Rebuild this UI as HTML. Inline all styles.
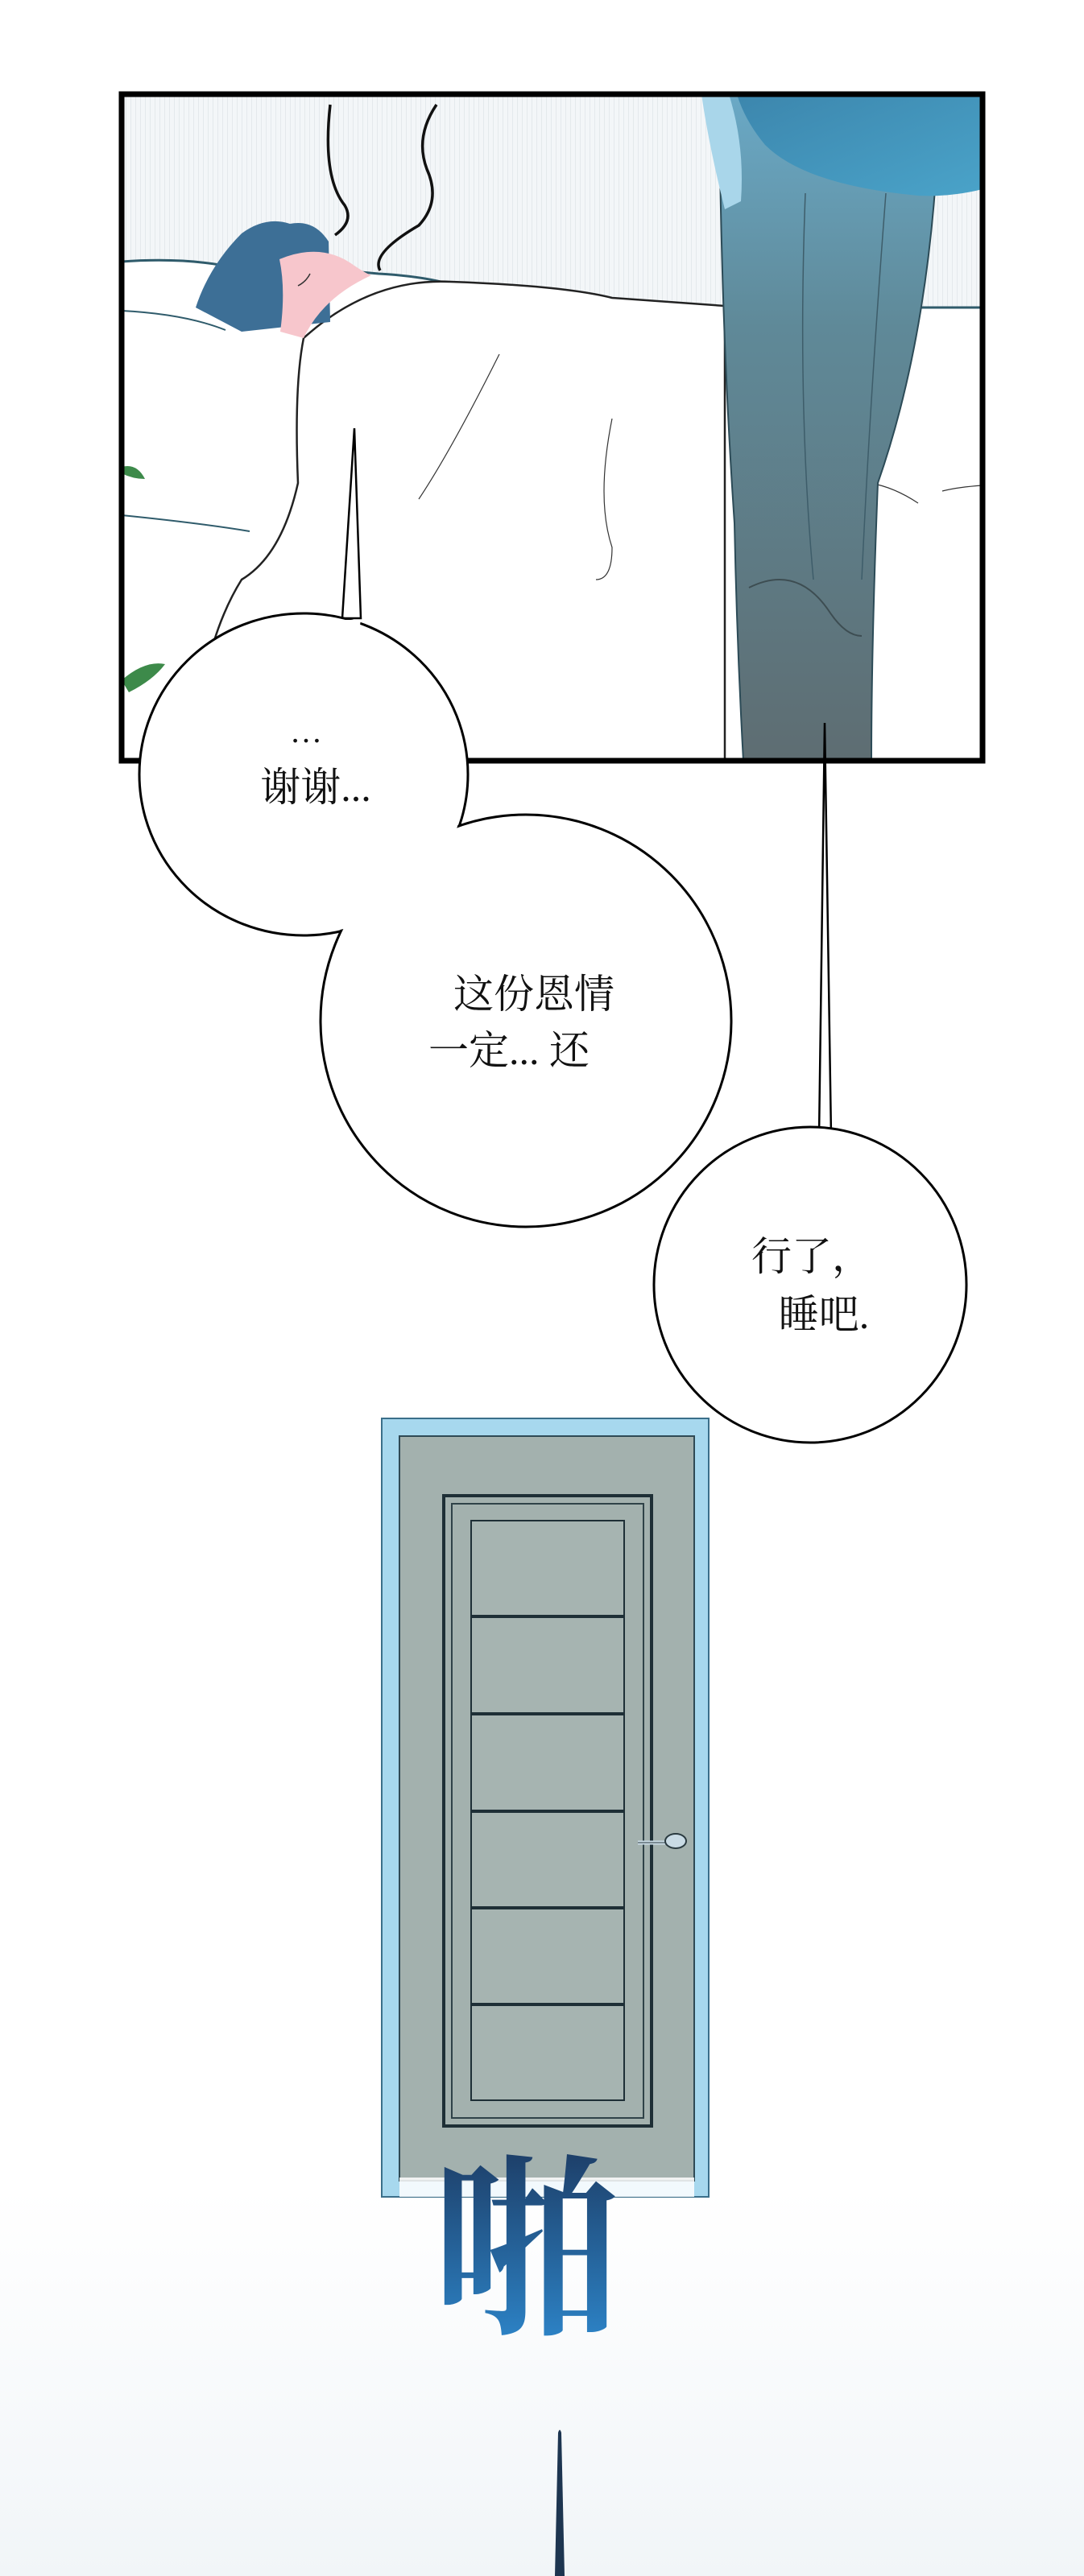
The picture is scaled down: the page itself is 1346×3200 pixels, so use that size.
<!DOCTYPE html>
<html><head><meta charset="utf-8"><style>
html,body{margin:0;padding:0;background:#fff;}
svg{display:block;}
text{font-family:"Liberation Serif","Noto Serif CJK SC","Noto Sans CJK SC",serif;fill:#111;}
</style></head><body>
<svg width="1346" height="3200" viewBox="0 0 1346 3200" xmlns="http://www.w3.org/2000/svg">
<defs>
<linearGradient id="pants" x1="0" y1="0" x2="0" y2="1">
<stop offset="0" stop-color="#6aa9c6"/><stop offset="0.35" stop-color="#5f8998"/><stop offset="1" stop-color="#5e6d72"/>
</linearGradient>
<linearGradient id="shirt" x1="0" y1="0" x2="1" y2="1">
<stop offset="0" stop-color="#3c86ad"/><stop offset="1" stop-color="#4aa3c9"/>
</linearGradient>
<linearGradient id="pa" x1="0" y1="0" x2="0" y2="1">
<stop offset="0" stop-color="#1d3d66"/><stop offset="1" stop-color="#2e8ad0"/>
</linearGradient>
<linearGradient id="floor" x1="0" y1="0" x2="0" y2="1">
<stop offset="0" stop-color="#ffffff"/><stop offset="1" stop-color="#f1f5f8"/>
</linearGradient>
<pattern id="stripes" width="6" height="10" patternUnits="userSpaceOnUse">
<rect width="6" height="10" fill="#f3f6f8"/><rect width="1" height="10" fill="#e4e9ec"/>
</pattern>
<clipPath id="pc"><rect x="151" y="117" width="1069" height="828"/></clipPath>
</defs>

<!-- PANEL -->
<g clip-path="url(#pc)">
<rect x="151" y="117" width="1069" height="828" fill="url(#stripes)"/>
<path d="M151 325 Q250 318 320 340 L360 330 L470 340 Q560 345 600 370 Q700 380 900 382 L1220 382 L1220 945 L151 945 Z" fill="#fff" stroke="#2f5b6b" stroke-width="3"/>
<path d="M151 386 Q230 390 280 410" fill="none" stroke="#2f5b6b" stroke-width="2"/>
<path d="M151 640 Q250 650 310 660" fill="none" stroke="#2f5b6b" stroke-width="2"/>
<path d="M377 420 Q460 345 560 350 Q700 355 760 370 L900 380 L900 945 L240 945 Q250 800 300 720 Q350 690 370 600 Q365 480 377 420Z" fill="#fff" stroke="#222" stroke-width="2.5"/>
<path d="M620 440 Q560 560 520 620" fill="none" stroke="#333" stroke-width="1.2"/>
<path d="M760 520 Q740 620 760 680 Q760 720 740 720" fill="none" stroke="#333" stroke-width="1.2"/>
<path d="M1080 600 Q1110 605 1140 625 M1170 610 Q1190 605 1220 603" fill="none" stroke="#333" stroke-width="1.2"/>
<path d="M243 382 Q260 330 300 290 Q330 268 360 278 Q390 272 408 300 L410 400 L300 412 Z" fill="#3d6f96"/>
<path d="M347 322 Q400 300 440 330 Q455 340 461 342 Q400 370 377 420 L348 412 Q355 360 347 322Z" fill="#f7c6cc"/>
<path d="M370 355 Q380 350 385 340" fill="none" stroke="#333" stroke-width="1.5"/>
<path d="M410 130 Q400 220 428 255 Q440 275 416 292" fill="none" stroke="#111" stroke-width="3.5"/>
<path d="M542 130 Q515 170 530 210 Q548 250 520 280 Q460 315 472 336" fill="none" stroke="#111" stroke-width="3.5"/>
<!-- standing man -->
<path d="M893 117 L1167 117 Q1160 400 1090 600 Q1082 800 1082 945 L923 945 Q915 800 912 650 Q895 400 893 117 Z" fill="url(#pants)" stroke="#2c4b57" stroke-width="2"/>
<path d="M1000 240 Q990 500 1010 720 M1100 240 Q1080 500 1070 720" fill="none" stroke="#3e5d6a" stroke-width="1.5"/>
<path d="M930 730 Q990 700 1030 760 Q1050 790 1070 790" fill="none" stroke="#3d4d52" stroke-width="2"/>
<path d="M871 117 L905 117 Q925 180 920 250 L900 260 Q880 180 871 117Z" fill="#a9d6ea"/>
<path d="M915 117 L1220 117 L1220 235 Q1180 245 1140 243 Q1000 230 950 180 Q925 150 915 117Z" fill="url(#shirt)"/>
<path d="M151 580 Q170 575 180 595 Q165 595 151 588Z" fill="#3d8a4a"/>
<path d="M151 845 Q180 820 205 825 Q190 845 160 860Z" fill="#3d8a4a"/>
</g>
<rect x="151" y="117" width="1069" height="828" fill="none" stroke="#000" stroke-width="7"/>

<path d="M425 768 L440 532 L448 768 Z" fill="#fff" stroke="#000" stroke-width="2.5"/>
<path d="M1017 1412 L1024 898 L1032 1412 Z" fill="#fff" stroke="#000" stroke-width="2.5"/>

<ellipse cx="1006" cy="1596" rx="194" ry="196" fill="#fff" stroke="#000" stroke-width="3"/>
<ellipse cx="377" cy="962" rx="204" ry="200" fill="#fff" stroke="#000" stroke-width="3"/>
<ellipse cx="653" cy="1268" rx="255" ry="256" fill="#fff" stroke="#000" stroke-width="3"/>
<ellipse cx="377" cy="962" rx="202" ry="198" fill="#fff"/>
<path d="M425 770 L448 770 L445 790 L425 790Z" fill="#fff"/>
<path d="M1019 1408 L1030 1408 L1030 1420 L1019 1420Z" fill="#fff"/>

<text x="380" y="922" font-size="40" text-anchor="middle">…</text>
<text x="392" y="995" font-size="50" text-anchor="middle">谢谢...</text>
<text x="663" y="1252" font-size="50" text-anchor="middle">这份恩情</text>
<text x="632" y="1322" font-size="50" text-anchor="middle">一定... 还</text>
<text x="1008" y="1578" font-size="50" text-anchor="middle">行了，</text>
<text x="1023" y="1650" font-size="50" text-anchor="middle">睡吧.</text>

<rect x="0" y="2720" width="1346" height="480" fill="url(#floor)"/>

<!-- DOOR -->
<rect x="474" y="1762" width="406" height="967" fill="#a7d8ee" stroke="#3b6f8a" stroke-width="2"/>
<rect x="496" y="1784" width="366" height="925" fill="#a3b1ae" stroke="#2f4a55" stroke-width="2"/>
<rect x="551" y="1858" width="258" height="783" fill="none" stroke="#1e2f36" stroke-width="4"/>
<rect x="561" y="1868" width="238" height="763" fill="none" stroke="#2f4248" stroke-width="2"/>
<g fill="#a6b4b1" stroke="#1e2f36" stroke-width="2">
<rect x="585" y="1889" width="190" height="118"/>
<rect x="585" y="2009" width="190" height="119"/>
<rect x="585" y="2130" width="190" height="119"/>
<rect x="585" y="2251" width="190" height="118"/>
<rect x="585" y="2371" width="190" height="118"/>
<rect x="585" y="2491" width="190" height="118"/>
</g>
<path d="M792 2289 L840 2289" stroke="#c9dbe5" stroke-width="5"/>
<path d="M792 2289 L840 2289" stroke="#2a3a40" stroke-width="1" fill="none"/>
<ellipse cx="839" cy="2287" rx="13" ry="9" fill="#c9dbe5" stroke="#2a3a40" stroke-width="2"/>
<rect x="496" y="2705" width="366" height="24" fill="#fff" opacity="0.85"/>

<text x="656" y="2880" font-size="240" text-anchor="middle" font-family="'Noto Sans CJK SC',sans-serif" font-weight="bold" style="fill:url(#pa)">啪</text>

<path d="M689 3200 L693 3022 Q695 3015 697 3022 L701 3200Z" fill="#1d3550"/>
</svg>
</body></html>
